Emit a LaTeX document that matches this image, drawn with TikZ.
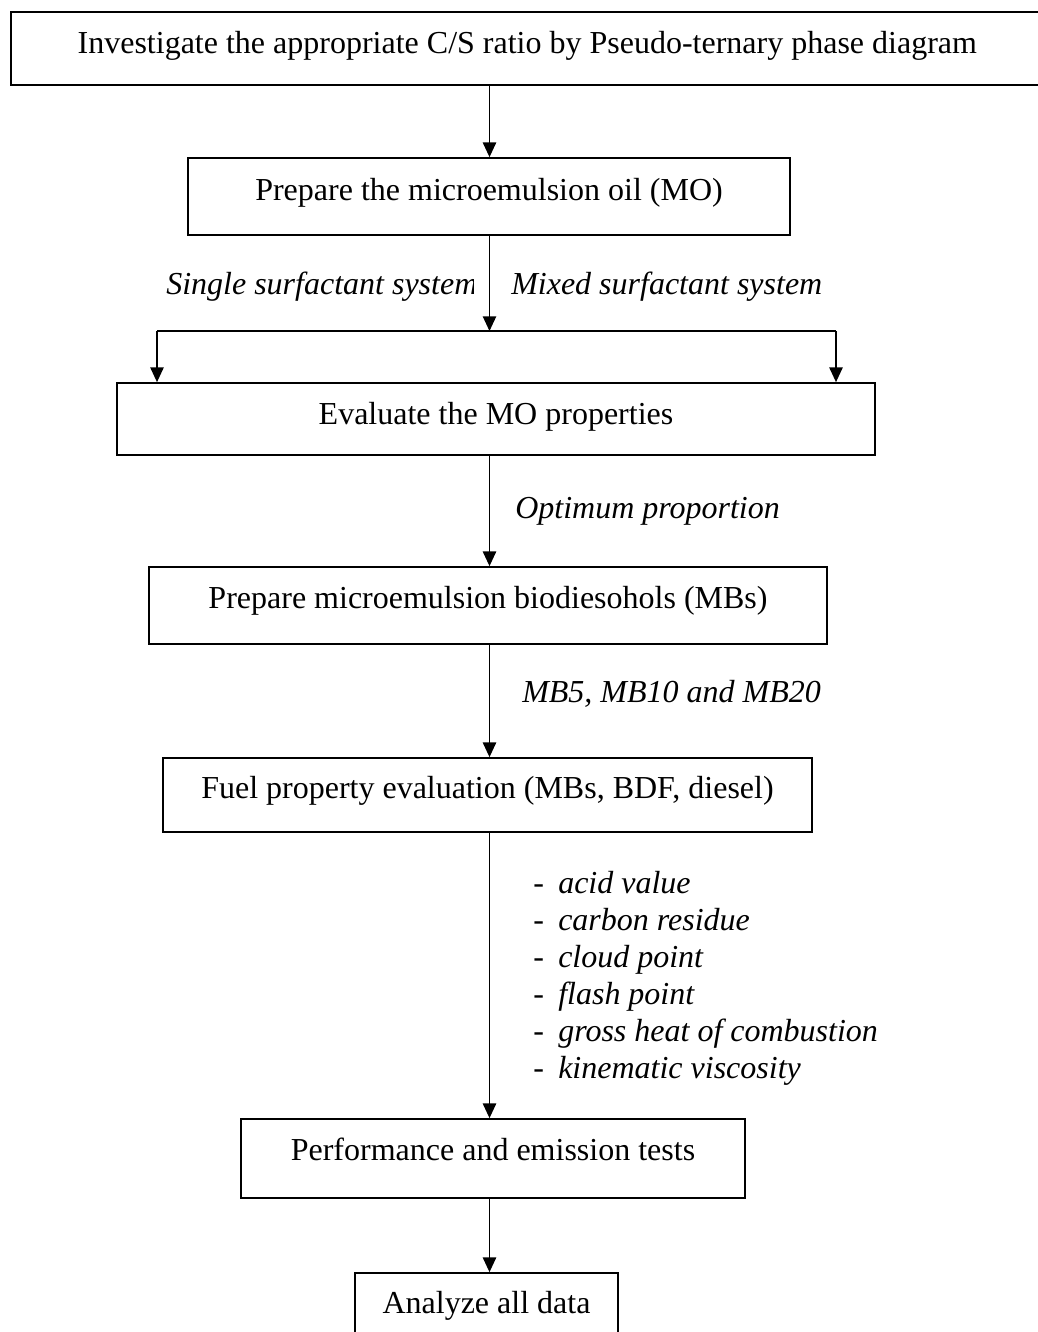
\documentclass[tikz,border=0pt]{standalone}
\usepackage{fontspec}
\setmainfont{Liberation Serif}
\usetikzlibrary{arrows.meta}
\begin{document}
\begin{tikzpicture}[x=0.75pt,y=-0.75pt,
  font=\fontsize{24pt}{28pt}\selectfont,
  stepbox/.style={draw, line width=1.3pt, inner sep=0pt, anchor=base, align=center},
  lbl/.style={inner sep=0pt, anchor=base west, font=\fontsize{24pt}{28pt}\selectfont\itshape},
  arr/.style={line width=1pt, -{Triangle[length=11pt,width=10pt]}},
  ln/.style={line width=1pt}]
\useasboundingbox (0,0) rectangle (1038,1332);
\fill[white] (0,0) rectangle (1038,1332);
\coordinate (ax) at (489.5,0);

\node[stepbox, minimum width=775pt, text height=31pt, text depth=24pt] (b1) at (527.3,53)
  {Investigate the appropriate C/S ratio by Pseudo-ternary phase diagram};
\node[stepbox, minimum width=451.5pt, text height=31.5pt, text depth=26.25pt] (b2) at (489,200)
  {Prepare the microemulsion oil (MO)};
\node[stepbox, minimum width=568.5pt, text height=30.75pt, text depth=23.25pt] (b3) at (496,424)
  {Evaluate the MO properties};
\node[stepbox, minimum width=508.5pt, text height=30.75pt, text depth=27pt] (b4) at (488,608)
  {Prepare microemulsion biodiesohols (MBs)};
\node[stepbox, minimum width=486.75pt, text height=30pt, text depth=25.5pt] (b5) at (487.5,798)
  {Fuel property evaluation (MBs, BDF, diesel)};
\node[stepbox, minimum width=378pt, text height=30.75pt, text depth=28.5pt] (b6) at (493,1160)
  {Performance and emission tests};
\node[stepbox, minimum width=197.25pt, text height=30pt, text depth=27.75pt] (b7) at (486.5,1313)
  {Analyze all data};

% labels
\begin{scope}
  \clip (150,250) rectangle (473,320);
  \node[lbl] (single) at (166,294) {Single surfactant system};
\end{scope}
\node[lbl] (mixed) at (511,294) {Mixed surfactant system};
\node[lbl] (optimum) at (515,518) {Optimum proportion};
\node[lbl] (mbs) at (522,702) {MB5, MB10 and MB20};

\node[lbl] (p1) at (533,893) {\upshape\makebox[18.75pt][l]{-}\itshape acid value};
\node[lbl] (p2) at (533,930) {\upshape\makebox[18.75pt][l]{-}\itshape carbon residue};
\node[lbl] (p3) at (533,967) {\upshape\makebox[18.75pt][l]{-}\itshape cloud point};
\node[lbl] (p4) at (533,1004) {\upshape\makebox[18.75pt][l]{-}\itshape flash point};
\node[lbl] (p5) at (533,1041) {\upshape\makebox[18.75pt][l]{-}\itshape gross heat of combustion};
\node[lbl] (p6) at (533,1078) {\upshape\makebox[18.75pt][l]{-}\itshape kinematic viscosity};

% connectors
\coordinate (j) at (489.5,331);
\coordinate (jl) at (157,331);
\coordinate (jr) at (836,331);

\draw[arr] (b1.south -| ax) -- (b2.north -| ax);
\draw[arr] (b2.south -| ax) -- (j);
\draw[ln] (jl) -- (jr);
\draw[arr] (jl) -- (jl |- b3.north);
\draw[arr] (jr) -- (jr |- b3.north);
\draw[arr] (b3.south -| ax) -- (b4.north -| ax);
\draw[arr] (b4.south -| ax) -- (b5.north -| ax);
\draw[arr] (b5.south -| ax) -- (b6.north -| ax);
\draw[arr] (b6.south -| ax) -- (b7.north -| ax);
\end{tikzpicture}
\end{document}
